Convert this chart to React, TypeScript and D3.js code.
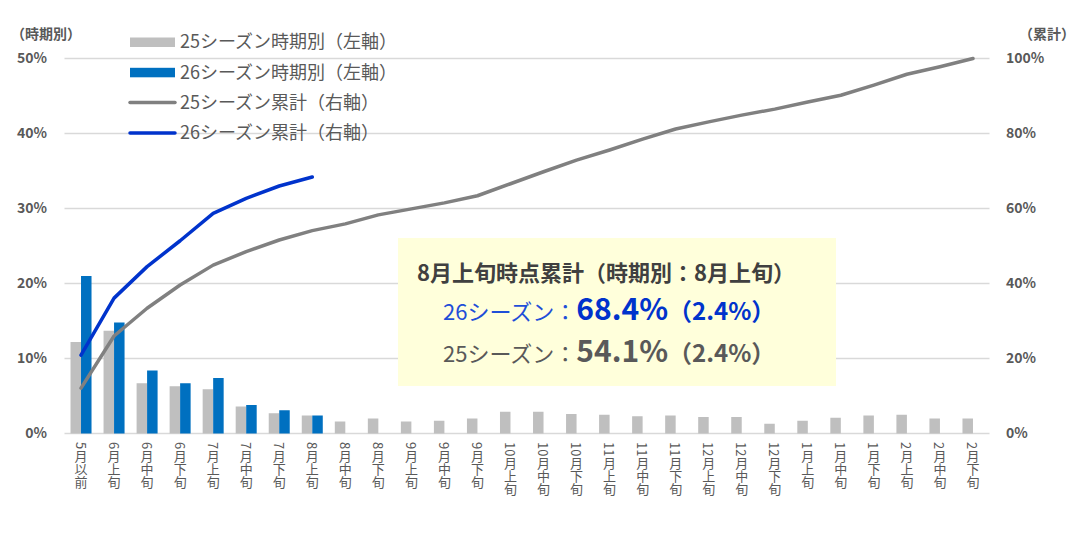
import React from 'react'
import * as d3 from 'd3'

// 時期区分
const categories = ['5月以前', '6月上旬', '6月中旬', '6月下旬', '7月上旬', '7月中旬', '7月下旬', '8月上旬', '8月中旬', '8月下旬',
  '9月上旬', '9月中旬', '9月下旬', '10月上旬', '10月中旬', '10月下旬', '11月上旬', '11月中旬', '11月下旬',
  '12月上旬', '12月中旬', '12月下旬', '1月上旬', '1月中旬', '1月下旬', '2月上旬', '2月中旬', '2月下旬']

// 時期別 (%)
const period25 = [12.2, 13.7, 6.7, 6.3, 5.9, 3.6, 2.7, 2.4, 1.6, 2.0, 1.6, 1.7, 2.0, 2.9, 2.9, 2.6, 2.5, 2.3, 2.4, 2.2, 2.2, 1.3, 1.7, 2.1, 2.4, 2.5, 2.0, 2.0]
const period26 = [21.0, 14.8, 8.4, 6.7, 7.4, 3.8, 3.1, 2.4]

// 累計 (%)
const cum25 = [12.1, 26.0, 33.4, 39.6, 44.9, 48.5, 51.6, 54.1, 55.9, 58.3, 59.9, 61.5, 63.4, 66.6, 69.8, 72.9, 75.6, 78.5, 81.2, 83.1, 84.9, 86.5, 88.4, 90.2, 92.9, 95.8, 97.8, 100]
const cum26 = [20.9, 36.1, 44.5, 51.4, 58.7, 62.7, 66.0, 68.4]

const leftTicks = [0, 10, 20, 30, 40, 50]
const rightTicks = [0, 20, 40, 60, 80, 100]

const legendItems = [
  { label: '25シーズン時期別（左軸）', kind: 'bar', color: '#BFBFBF' },
  { label: '26シーズン時期別（左軸）', kind: 'bar', color: '#0070C0' },
  { label: '25シーズン累計（右軸）', kind: 'line', color: '#808080' },
  { label: '26シーズン累計（右軸）', kind: 'line', color: '#0033CC' },
]

const FONT = '"Noto Sans CJK JP", "Noto Sans", sans-serif'
const TEXT = '#595959'

const App = () => {
  const width = 1079
  const height = 535
  const left = 64.5
  const right = 989.5
  const top = 58.5
  const bottom = 433.5

  const x = d3.scaleBand<string>().domain(categories).range([left, right]).padding(0)
  const yL = d3.scaleLinear().domain([0, 50]).range([bottom, top])
  const yR = d3.scaleLinear().domain([0, 100]).range([bottom, top])
  const cx = (i: number) => (x(categories[i]) as number) + x.bandwidth() / 2
  const barW = 10.5

  const cumLine = d3.line<number>()
    .x((d, i) => cx(i))
    .y(d => yR(d))

  return (
    <svg width={width} height={height} style={{ position: 'absolute', left: 0, top: 0, fontFamily: FONT }}>
      <rect width={width} height={height} fill="#fff" />

      {leftTicks.map(t => (
        <g key={t}>
          <line x1={left} x2={right} y1={yL(t)} y2={yL(t)} stroke="#D9D9D9" strokeWidth={1.5} />
          <text x={47} y={yL(t)} dy="0.35em" textAnchor="end" fontSize={14} fontWeight={700} fill={TEXT}>{t}%</text>
        </g>
      ))}
      {rightTicks.map(t => (
        <text key={t} x={1006} y={yR(t)} dy="0.35em" fontSize={14} fontWeight={700} fill={TEXT}>{t}%</text>
      ))}
      <text x={11} y={34} dy="0.35em" fontSize={14} fontWeight={700} fill={TEXT}>（時期別）</text>
      <text x={1019} y={34} dy="0.35em" fontSize={14} fontWeight={700} fill={TEXT}>（累計）</text>

      {period25.map((v, i) => (
        <rect key={'a' + i} x={cx(i) - barW} y={yL(v)} width={barW} height={bottom - yL(v)} fill="#BFBFBF" />
      ))}
      {period26.map((v, i) => (
        <rect key={'b' + i} x={cx(i)} y={yL(v)} width={barW} height={bottom - yL(v)} fill="#0070C0" />
      ))}

      <path d={cumLine(cum25) as string} fill="none" stroke="#808080" strokeWidth={3.5} strokeLinejoin="round" strokeLinecap="round" />
      <path d={cumLine(cum26) as string} fill="none" stroke="#0033CC" strokeWidth={3.5} strokeLinejoin="round" strokeLinecap="round" />

      {categories.map((c, i) => (
        <text key={c} x={cx(i)} y={442} fontSize={13} fill={TEXT}
          style={{ writingMode: 'vertical-rl' }}>{c}</text>
      ))}

      {legendItems.map((d, i) => {
        const ly = 42 + i * 30.3
        return (
          <g key={d.label}>
            {d.kind === 'bar'
              ? <rect x={130} y={ly - 4.5} width={45} height={9.5} fill={d.color} />
              : <line x1={130} x2={175} y1={ly} y2={ly} stroke={d.color} strokeWidth={3.5} strokeLinecap="round" />}
            <text x={180} y={ly} dy="0.36em" fontSize={18} fill={TEXT}>{d.label}</text>
          </g>
        )
      })}

      <g>
        <rect x={398} y={238} width={438} height={148} fill="#FFFFDB" />
        <text x={417} y={281} fontSize={22} fontWeight={700} fill="#404040">8月上旬時点累計（時期別：8月上旬）</text>
        <text x={443} y={320} fill="#1F4FD8">
          <tspan fontSize={22}>26シーズン：</tspan>
          <tspan fontSize={30} fontWeight={700} fill="#0033CC">68.4%</tspan>
          <tspan fontSize={24} fontWeight={700} fill="#0033CC">（2.4%）</tspan>
        </text>
        <text x={443} y={362} fill={TEXT}>
          <tspan fontSize={22}>25シーズン：</tspan>
          <tspan fontSize={30} fontWeight={700}>54.1%</tspan>
          <tspan fontSize={24} fontWeight={700}>（2.4%）</tspan>
        </text>
      </g>
    </svg>
  )
}

export default App
